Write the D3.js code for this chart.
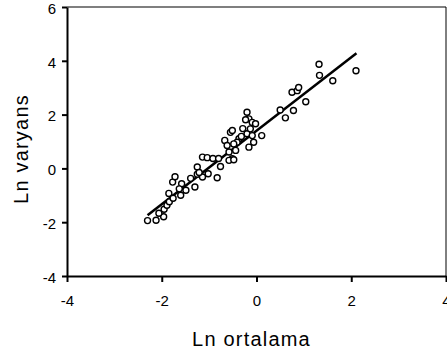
<!DOCTYPE html>
<html>
<head>
<meta charset="utf-8">
<script src="https://cdn.jsdelivr.net/npm/d3@7"></script>
<style>
  body { margin: 0; background: #fff; }
  svg { display: block; }
  .axis path, .axis line { stroke: #000; }
  .axis text { font-family: "Liberation Sans", Arial, sans-serif; font-size: 15px; fill: #000; }
</style>
</head>
<body>
<div id="chart"></div>
<script>
// Ln mean (x) vs Ln variance (y)
const lnMean = [-2.30, -2.12, -1.96, -1.95, -1.89, -1.84, -1.85, -1.77, -1.72, -1.58,
  -1.63, -1.60, -1.76, -1.49, -1.30, -1.25, -1.14, -1.25, -1.21, -1.14,
  -1.04, -1.02, -0.83, -0.92, -0.80, -0.76, -0.67, -0.55, -0.51, -0.62,
  -0.58, -0.51, -0.37, -0.20, -0.16, -0.09, -0.20, -0.16, -0.09, -0.23,
  -0.13, -0.32, -0.41, -0.06, -0.02, 0.11, 0.50, 0.61, 0.78, 0.75,
  0.86, 0.89, 1.04, 1.32, 1.33, 1.61, 2.10, -0.48, -0.44, -0.58,
  -0.48, -0.29, -2.06, -1.39];
const lnVar = [-1.94, -1.93, -1.80, -1.52, -1.37, -1.24, -0.93, -0.51, -0.31, -0.57,
  -0.76, -1.00, -1.11, -0.81, -0.69, -0.22, -0.32, 0.05, -0.15, 0.42,
  0.40, -0.20, -0.35, 0.37, 0.37, 0.07, 1.04, 1.34, 1.41, 0.85,
  0.61, 0.36, 1.10, 1.29, 0.79, 1.22, 2.09, 1.84, 1.71, 1.81,
  1.47, 1.19, 0.97, 0.97, 1.66, 1.22, 2.17, 1.88, 2.15, 2.83,
  2.89, 3.01, 2.48, 3.87, 3.46, 3.26, 3.63, 0.91, 0.67, 0.30,
  0.32, 1.48, -1.67, -0.37];
// fitted regression line end points
const fitX = [-2.30, 2.11];
const fitY = [-1.74, 4.28];
const xTicks = [-4, -2, 0, 2, 4];
const yTicks = [-4, -2, 0, 2, 4, 6];

const width = 447, height = 356;
const margin = {top: 7, right: 1, bottom: 80, left: 67};
const innerW = width - margin.left - margin.right;
const innerH = height - margin.top - margin.bottom;

// plain hyphen for negatives, like the original print
const fmt = d => String(d);

const svg = d3.select('#chart').append('svg')
  .attr('width', width)
  .attr('height', height);

const x = d3.scaleLinear().domain([-4, 4]).range([0, innerW]);
const y = d3.scaleLinear().domain([-4, 6]).range([innerH, 0]);

const g = svg.append('g')
  .attr('transform', 'translate(' + margin.left + ',' + margin.top + ')');

// thin frame on top and right
g.append('line').attr('x1', 0).attr('x2', innerW).attr('y1', 0).attr('y2', 0)
  .attr('stroke', '#000').attr('stroke-width', 1.2);
g.append('line').attr('x1', innerW).attr('x2', innerW).attr('y1', 0).attr('y2', innerH)
  .attr('stroke', '#000').attr('stroke-width', 1);

// X axis
g.append('g').attr('class', 'axis axis--x')
  .attr('transform', 'translate(0,' + innerH + ')')
  .call(d3.axisBottom(x).tickValues(xTicks).tickFormat(fmt).tickSize(6).tickPadding(13).tickSizeOuter(0))
  .call(s => s.selectAll('path, line').attr('stroke-width', 2));

// Y axis
g.append('g').attr('class', 'axis axis--y')
  .call(d3.axisLeft(y).tickValues(yTicks).tickFormat(fmt).tickSize(5).tickPadding(6).tickSizeOuter(0))
  .call(s => s.selectAll('path, line').attr('stroke-width', 2))
  .call(s => s.selectAll('text').attr('dy', '0.42em'));

// axis titles
svg.append('text')
  .attr('x', margin.left + x(0) - 5)
  .attr('y', 346)
  .attr('text-anchor', 'middle')
  .style('font-family', '"Liberation Sans", Arial, sans-serif')
  .style('font-size', '20px')
  .style('letter-spacing', '1.2px')
  .text('Ln ortalama');

svg.append('text')
  .attr('transform', 'translate(28,149) rotate(-90)')
  .attr('text-anchor', 'middle')
  .style('font-family', '"Liberation Sans", Arial, sans-serif')
  .style('font-size', '20px')
  .style('letter-spacing', '1.2px')
  .text('Ln varyans');

// regression line
g.append('line')
  .attr('x1', x(fitX[0])).attr('y1', y(fitY[0]))
  .attr('x2', x(fitX[1])).attr('y2', y(fitY[1]))
  .attr('stroke', '#000')
  .attr('stroke-width', 2.5);

// points
g.selectAll('.pt').data(d3.range(lnMean.length))
  .enter().append('circle')
  .attr('class', 'pt')
  .attr('cx', i => x(lnMean[i]))
  .attr('cy', i => y(lnVar[i]))
  .attr('r', 3)
  .attr('fill', '#fff')
  .attr('stroke', '#000')
  .attr('stroke-width', 1.4);
</script>
</body>
</html>
